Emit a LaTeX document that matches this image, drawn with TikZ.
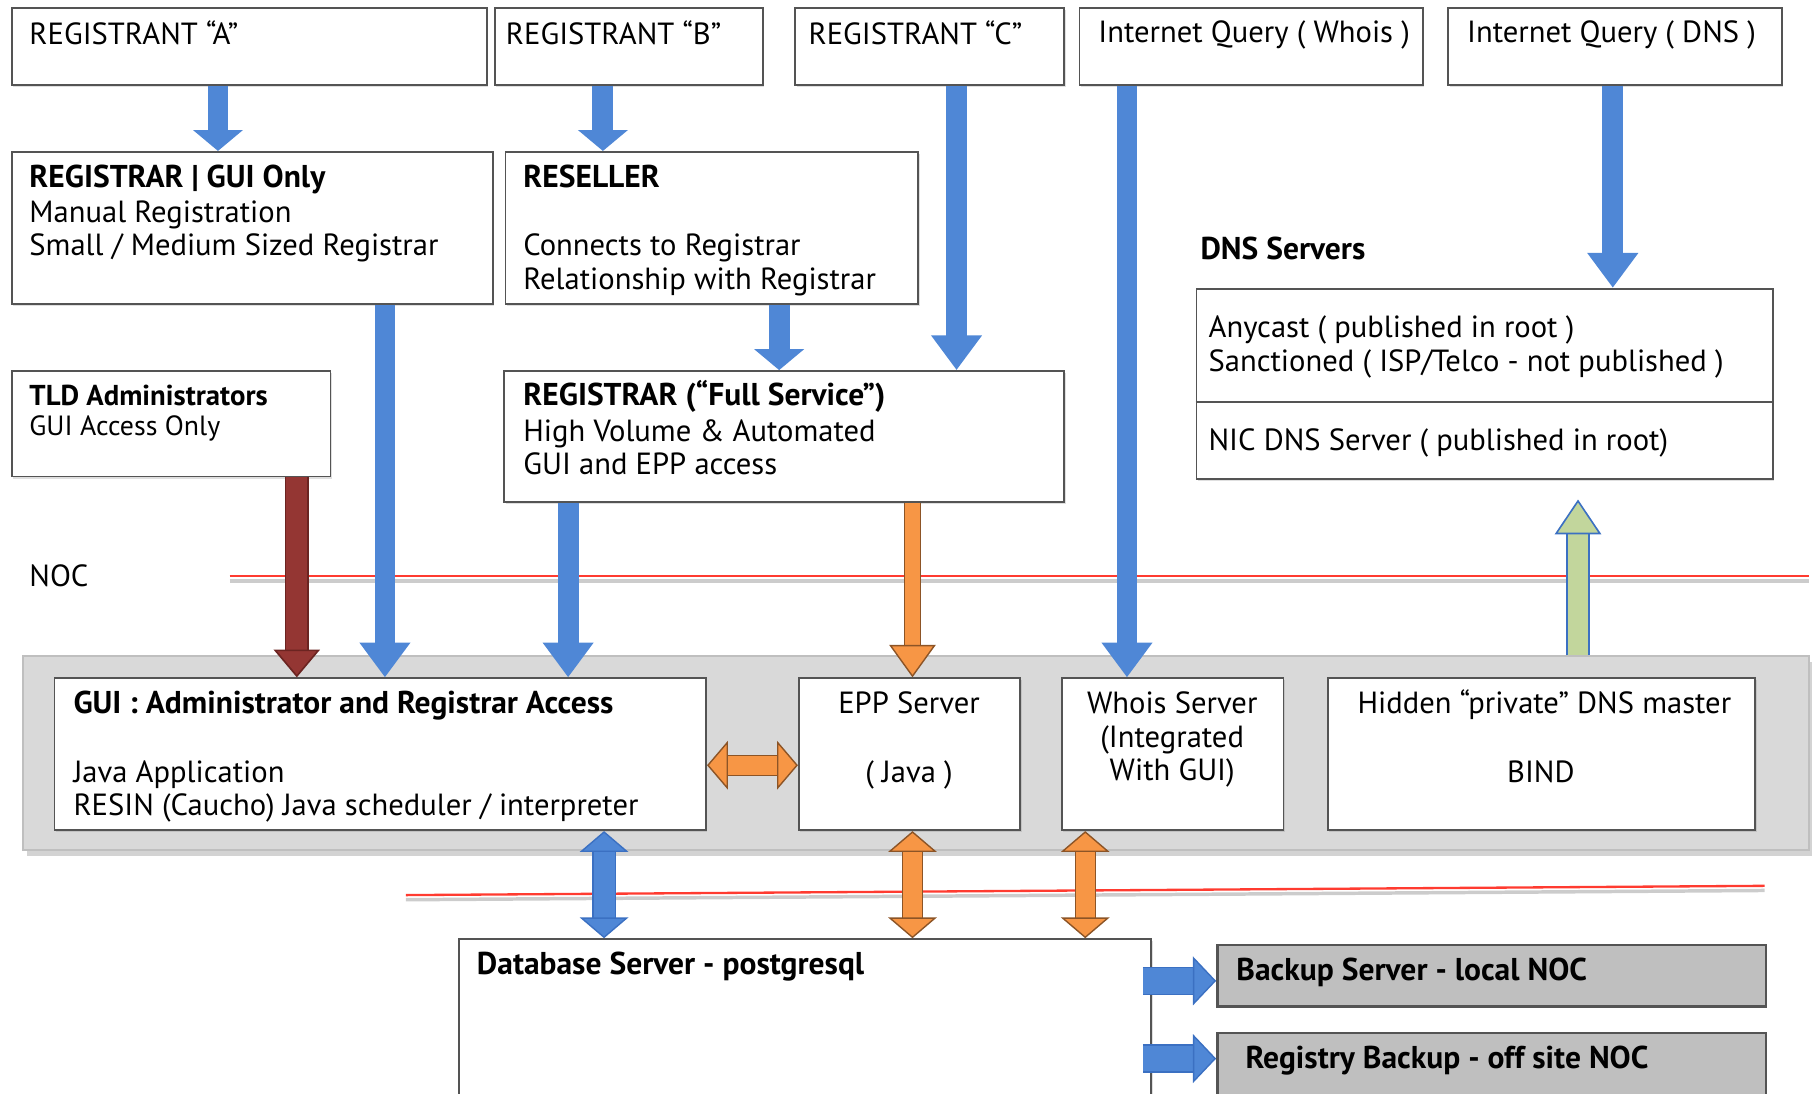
\documentclass[tikz,border=0pt]{standalone}
\usepackage{fontspec}
\setmainfont{PT Sans}
\usetikzlibrary{arrows.meta,fit,shadows}
\definecolor{boxline}{rgb}{0.33,0.33,0.33}
\definecolor{arrblue}{rgb}{0.31,0.53,0.84}
\definecolor{arrdark}{rgb}{0.23,0.44,0.76}
\definecolor{orfill}{rgb}{0.97,0.59,0.27}
\definecolor{orline}{rgb}{0.55,0.33,0.15}
\definecolor{redfill}{rgb}{0.58,0.21,0.20}
\definecolor{redline}{rgb}{0.42,0.14,0.13}
\definecolor{grfill}{rgb}{0.76,0.84,0.61}
\definecolor{nocred}{rgb}{1,0.23,0.19}
\definecolor{panelgray}{rgb}{0.85,0.85,0.85}
\definecolor{backgray}{rgb}{0.75,0.75,0.75}
\tikzset{
  box/.style={draw=boxline, line width=0.8pt, fill=white, inner sep=0pt,
    drop shadow={opacity=0.25,shadow xshift=0.6pt,shadow yshift=-0.9pt}},
  panel/.style={draw=backgray, line width=0.8pt, fill=panelgray, inner sep=0pt,
    drop shadow={opacity=0.35,shadow xshift=1.5pt,shadow yshift=-2.5pt}},
  darkbox/.style={box, fill=backgray, line width=1.1pt},
  txt/.style={anchor=west, inner sep=0pt, text height=9pt, text depth=2.5pt,
    font=\fontsize{13.2}{15}\selectfont},
  bold/.style={txt, font=\fontsize{13.6}{15}\selectfont\bfseries},
  small/.style={txt, font=\fontsize{12}{14}\selectfont},
  smallbold/.style={txt, font=\fontsize{12.4}{14}\selectfont\bfseries},
  mid/.style={txt, anchor=center},
  nocline/.style={draw=nocred, line width=1pt,
    preaction={draw=black!20, line width=1.5pt, transform canvas={yshift=-2pt}}},
  bluearr/.style={draw=arrblue, line width=9pt, -{Triangle[width=21pt,length=15pt]}},
  blueshort/.style={bluearr, -{Triangle[width=21pt,length=9pt]}},
  redarr/.style={draw=redline, double=redfill, line width=0.7pt, double distance=9pt,
    -{Triangle[width=20pt,length=12pt,fill=redfill]}},
  orarr/.style={draw=orline, double=orfill, line width=0.6pt, double distance=6.5pt,
    -{Triangle[width=20pt,length=14pt,fill=orfill]}},
  ordbl/.style={draw=orline, double=orfill, line width=0.6pt, double distance=8pt,
    {Triangle[width=21pt,length=9pt,fill=orfill]}-{Triangle[width=21pt,length=9pt,fill=orfill]}},
  bluedbl/.style={draw=arrdark, double=arrblue, line width=0.6pt, double distance=9pt,
    {Triangle[width=21pt,length=9pt,fill=arrblue]}-{Triangle[width=21pt,length=9pt,fill=arrblue]}},
  grarr/.style={draw=arrdark, double=grfill, line width=0.7pt, double distance=9pt,
    -{Triangle[width=20pt,length=15pt,fill=grfill]}},
  sidearr/.style={draw=arrdark, double=arrblue, line width=0.6pt, double distance=11pt,
    -{Triangle[width=21pt,length=10pt,fill=arrblue]}}
}
\begin{document}
\begin{tikzpicture}[x=0.5pt,y=-0.5pt]
\useasboundingbox (0,0) rectangle (1568,943);
\clip (0,0) rectangle (1568,943);
% registrants and queries
\node[box, fit={(10,7) (420,73)}] (regA) {};
\node[box, fit={(427,7) (658,73)}] (regB) {};
\node[box, fit={(686,7) (918,73)}] (regC) {};
\node[box, fit={(931,7) (1227,73)}] (qwhois) {};
\node[box, fit={(1249,7) (1537,73)}] (qdns) {};
\node[txt] (regAt) at (25,32) {REGISTRANT “A”};
\node[txt] (regBt) at (436,32) {REGISTRANT “B”};
\node[txt] (regCt) at (697,32) {REGISTRANT “C”};
\node[txt] (qwhoist) at (947,30) {Internet Query ( Whois )};
\node[txt] (qdnst) at (1265,30) {Internet Query ( DNS )};
% registrars
\node[box, fit={(10,131) (425,262)}] (reggui) {};
\node[bold] (reggui1) at (25,155) {REGISTRAR | GUI Only};
\node[txt] (reggui2) at (25,185) {Manual Registration};
\node[txt] (reggui3) at (25,214) {Small / Medium Sized Registrar};
\node[box, fit={(436,131) (792,262)}] (resell) {};
\node[bold] (resell1) at (451,155) {RESELLER};
\node[txt] (resell2) at (451,214) {Connects to Registrar};
\node[txt] (resell3) at (451,243) {Relationship with Registrar};
\node[box, fit={(10,320) (285,411)}] (tld) {};
\node[smallbold] (tld1) at (25,343) {TLD Administrators};
\node[small] (tld2) at (25,369) {GUI Access Only};
\node[box, fit={(435,320) (918,433)}] (regfull) {};
\node[bold] (regfull1) at (451,343) {REGISTRAR (“Full Service”)};
\node[txt] (regfull2) at (451,374) {High Volume \& Automated};
\node[txt] (regfull3) at (451,403) {GUI and EPP access};
% dns servers
\node[bold] (dnslab) at (1035,217) {DNS Servers};
\node[box, fit={(1032,249) (1529,413)}] (dns) {};
\draw[boxline, line width=0.8pt] (dns.west |- 0,347) -- (dns.east |- 0,347);
\node[txt] (dns1) at (1042,285) {Anycast ( published in root )};
\node[txt] (dns2) at (1042,314) {Sanctioned ( ISP/Telco - not published )};
\node[txt] (dns3) at (1042,382) {NIC DNS Server ( published in root)};
% noc
\node[txt] (noclab) at (25,499) {NOC};
\draw[nocline] (198,497) -- (1560,497);
\node[panel, fit={(20,566) (1560,733)}] (noc) {};
\node[box, fit={(47,585) (609,716)}] (gui) {};
\node[bold] (gui1) at (63,609) {GUI : Administrator and Registrar Access};
\node[txt] (gui2) at (63,668) {Java Application};
\node[txt] (gui3) at (63,697) {RESIN (Caucho) Java scheduler / interpreter};
\node[box, fit={(689,585) (880,716)}] (epp) {};
\node[mid] (epp1) at (784,609) {EPP Server};
\node[mid] (epp2) at (784,668) {( Java )};
\node[box, fit={(916,585) (1107,716)}] (whois) {};
\node[mid] (whois1) at (1011,609) {Whois Server};
\node[mid] (whois2) at (1011,638) {(Integrated};
\node[mid] (whois3) at (1011,667) {With GUI)};
\node[box, fit={(1145,585) (1514,716)}] (hidden) {};
\node[mid] (hidden1) at (1332,609) {Hidden “private” DNS master};
\node[mid] (hidden2) at (1329,668) {BIND};
\draw[nocline] (350,772) -- (1522,764);
% database and backups
\node[box, fit={(396,810) (993,960)}] (db) {};
\node[bold] (db1) at (411,834) {Database Server - postgresql};
\node[darkbox, fit={(1050,815) (1523,868)}] (backup) {};
\node[bold] (backup1) at (1066,839) {Backup Server - local NOC};
\node[darkbox, fit={(1050,891) (1523,960)}] (regbak) {};
\node[bold] (regbak1) at (1074,915) {Registry Backup - off site NOC};
% arrow columns
\coordinate (xA) at (188,0);
\coordinate (xB) at (520,0);
\coordinate (xC) at (825,0);
\coordinate (xW) at (972,0);
\coordinate (xD) at (1391,0);
\coordinate (xG) at (332,0);
\coordinate (xR) at (672,0);
\coordinate (xF) at (490,0);
\coordinate (xE) at (787,0);
\coordinate (xT) at (256,0);
\coordinate (xH) at (1361,0);
\coordinate (xDB) at (521,0);
\coordinate (xWD) at (936,0);
\coordinate (yGE) at (0,660);
\coordinate (yB1) at (0,846);
\coordinate (yB2) at (0,913);
% arrows
\draw[blueshort] (regA.south -| xA) -- (reggui.north -| xA);
\draw[blueshort] (regB.south -| xB) -- (resell.north -| xB);
\draw[bluearr] (regC.south -| xC) -- (regfull.north -| xC);
\draw[bluearr] (qwhois.south -| xW) -- (whois.north -| xW);
\draw[bluearr] (qdns.south -| xD) -- (dns.north -| xD);
\draw[bluearr] (reggui.south -| xG) -- (gui.north -| xG);
\draw[blueshort] (resell.south -| xR) -- (regfull.north -| xR);
\draw[bluearr] (regfull.south -| xF) -- (gui.north -| xF);
\draw[orarr] (regfull.south -| xE) -- (epp.north -| xE);
\draw[redarr] (tld.south -| xT) -- (gui.north -| xT);
\draw[grarr, shorten >=8.5pt] (noc.north -| xH) -- (dns.south -| xH);
\draw[ordbl] (gui.east |- yGE) -- (epp.west |- yGE);
\draw[bluedbl] (gui.south -| xDB) -- (db.north -| xDB);
\draw[ordbl] (epp.south -| xE) -- (db.north -| xE);
\draw[ordbl] (whois.south -| xWD) -- (db.north -| xWD);
\draw[sidearr, shorten <=-4pt] (db.east |- yB1) -- (backup.west |- yB1);
\draw[sidearr, shorten <=-4pt] (db.east |- yB2) -- (regbak.west |- yB2);
\end{tikzpicture}
\end{document}
